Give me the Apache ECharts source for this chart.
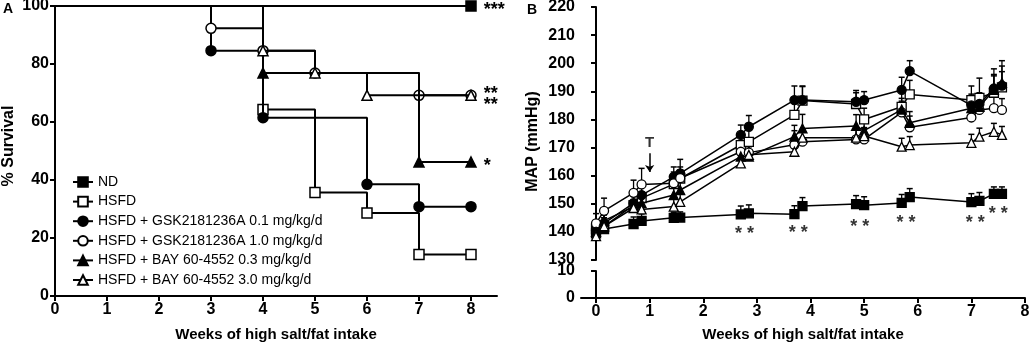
<!DOCTYPE html>
<html>
<head>
<meta charset="utf-8">
<script src="https://cdn.jsdelivr.net/npm/echarts@6/dist/echarts.min.js"></script>
<style>
html,body{margin:0;padding:0;background:#fff}
#main{width:1029px;height:348px}
</style>
</head>
<body>
<div id="main"></div>
<script>
// ---- panel A: Kaplan-Meier survival, [week, % survival]
var groupNames = ['ND', 'HSFD', 'HSFD + GSK2181236A 0.1 mg/kg/d', 'HSFD + GSK2181236A 1.0 mg/kg/d',
  'HSFD + BAY 60-4552 0.3 mg/kg/d', 'HSFD + BAY 60-4552 3.0 mg/kg/d'];
var kmND = [[0, 100], [8, 100]];
var kmHSFD = [[0, 100], [4, 64.3], [5, 35.7], [6, 28.6], [7, 14.3], [8, 14.3]];
var kmGSK01 = [[0, 100], [3, 84.6], [4, 61.5], [6, 38.5], [7, 30.8], [8, 30.8]];
var kmGSK10 = [[0, 100], [3, 92.3], [4, 84.6], [5, 76.9], [7, 69.2], [8, 69.2]];
var kmBAY03 = [[0, 100], [4, 76.9], [7, 46.2], [8, 46.2]];
var kmBAY30 = [[0, 100], [4, 84.6], [5, 76.9], [6, 69.2], [8, 69.2]];
var kmSig = ['***', '', '', '**', '*', '**'];
var weekTicksA = [0, 1, 2, 3, 4, 5, 6, 7, 8];

// ---- panel B: MAP (mmHg), mean and SEM
var weeksB = [0, 0.15, 0.7, 0.85, 1.45, 1.57, 2.7, 2.85, 3.7, 3.85, 4.85, 5.0, 5.7, 5.85, 7.0, 7.15, 7.42, 7.57];
var mapND    = [139.5, 141, 142.8, 143.9, 145, 145.1, 146.2, 146.6, 146.3, 149.2, 149.9, 149.5, 150.3, 152.4, 150.6, 151, 153.5, 153.5];
var mapHSFD  = [141, 142, 149.5, 152, 157, 159, 170.9, 172, 181.6, 186.7, 185.5, 180, 184.5, 188.9, 186.9, 187.7, 189.5, 191.4];
var mapGSK01 = [140.5, 143, 150.2, 153.1, 159.6, 160.8, 174.5, 177.4, 186.9, 186.9, 186.3, 186.9, 190.5, 197.2, 185, 185.5, 191, 192];
var mapGSK10 = [143, 147.5, 153.9, 156.9, 157.3, 159.1, 168.5, 168.2, 171, 172.1, 172.9, 172.9, 182.5, 177.2, 180.7, 183.4, 184, 183.4];
var mapBAY03 = [140, 144, 149, 150.2, 153.1, 154.9, 166.8, 166.8, 173.9, 176.8, 177.7, 176, 183.5, 178.8, 184, 184.5, 190.5, 193];
var mapBAY30 = [138.5, 142, 148.5, 148, 149, 150.7, 164.4, 167.4, 168.5, 173.5, 173.5, 174.1, 170.3, 170.9, 171.7, 173.9, 175.6, 174.5];
var semND    = [3, 3, 2.5, 2.5, 2, 2, 3, 3, 3, 3, 3, 3, 3, 3, 3, 3, 2.5, 2.5];
var semHSFD  = [3, 3, 4, 4, 3, 3, 4, 5, 5, 5, 4, 4, 5, 5, 5, 7, 8.5, 9.5];
var semGSK01 = [3, 3, 4, 4, 3.5, 5, 3.5, 4, 5, 5, 4, 3, 4.5, 3.7, 4, 4, 5, 5];
var semGSK10 = [3.5, 4.5, 4.5, 5.7, 4, 4, 4, 4, 5, 4, 4, 4, 4, 4, 4, 4, 4, 4];
var semBAY03 = [3, 3, 4, 4, 4, 4, 3.5, 3.5, 4, 5, 4, 4, 4, 4, 4, 4, 5, 6];
var semBAY30 = [3, 3, 3, 3, 3, 3, 3, 3, 3, 3, 3, 3, 3, 3, 3, 3, 3, 3];
var starWeeks = [2.77, 3.77, 4.92, 5.78, 7.07, 7.5];
var starMAP = [141, 141.4, 143.5, 145, 145, 148.1];
var weekTicksB = [0, 1, 2, 3, 4, 5, 6, 7, 8];

var symbols = ['rect', 'rect', 'circle', 'circle', 'triangle', 'triangle'];
var fills = ['#000', '#fff', '#000', '#fff', '#000', '#fff'];
var FONT = 'Liberation Sans, Arial, sans-serif';

var kmData = [kmND, kmHSFD, kmGSK01, kmGSK10, kmBAY03, kmBAY30];
var mapData = [mapND, mapHSFD, mapGSK01, mapGSK10, mapBAY03, mapBAY30];
var semData = [semND, semHSFD, semGSK01, semGSK10, semBAY03, semBAY30];
var sigOffset = [[0, 4], [0, 4], [0, 4], [0, -1], [0, 4], [0, 10]];

var mychart = echarts.init(document.getElementById('main'));

var series = [];
kmData.forEach(function (pts, i) {
  series.push({
    name: groupNames[i], type: 'line', step: 'end',
    xAxisIndex: 0, yAxisIndex: 0,
    symbol: symbols[i], symbolSize: 10, z: 3 + i,
    lineStyle: {color: '#000', width: 2},
    itemStyle: {color: fills[i], borderColor: '#000', borderWidth: 1.5},
    data: pts.map(function (p, j) {
      if (j === 0) return {value: p, symbol: 'none'};
      if (j === pts.length - 1 && kmSig[i]) {
        return {value: p, label: {show: true, position: 'right', distance: 7, formatter: kmSig[i],
          offset: sigOffset[i], color: '#000', fontSize: 18, fontWeight: 'bold', fontFamily: FONT}};
      }
      return {value: p};
    })
  });
});

// error bars (upward SEM) for panel B
var errData = [];
mapData.forEach(function (vals, i) {
  vals.forEach(function (v, j) { errData.push([weeksB[j], v, semData[i][j]]); });
});
series.push({
  type: 'custom', xAxisIndex: 1, yAxisIndex: 1, z: 1, silent: true,
  data: errData,
  renderItem: function (params, api) {
    var p0 = api.coord([api.value(0), api.value(1)]);
    var p1 = api.coord([api.value(0), api.value(1) + api.value(2)]);
    return {type: 'group', children: [
      {type: 'line', shape: {x1: p0[0], y1: p0[1], x2: p1[0], y2: p1[1]}, style: {stroke: '#000', lineWidth: 1.3}},
      {type: 'line', shape: {x1: p1[0] - 3, y1: p1[1], x2: p1[0] + 3, y2: p1[1]}, style: {stroke: '#000', lineWidth: 1.5}}
    ]};
  }
});

mapData.forEach(function (vals, i) {
  series.push({
    name: groupNames[i], type: 'line', xAxisIndex: 1, yAxisIndex: 1,
    symbol: symbols[i], symbolSize: 9, z: 3 + i,
    lineStyle: {color: '#000', width: 1.5},
    itemStyle: {color: fills[i], borderColor: '#000', borderWidth: 1.3},
    data: weeksB.map(function (w, j) { return [w, vals[j]]; })
  });
});

// significance stars under ND and the treatment arrow
var hidden = {color: 'rgba(0,0,0,0)'};
series.push({
  type: 'scatter', xAxisIndex: 1, yAxisIndex: 1, symbol: 'circle', symbolSize: 1, silent: true, z: 10,
  itemStyle: hidden,
  data: starWeeks.map(function (w, j) { return [w, starMAP[j]]; }),
  label: {show: true, position: 'inside', formatter: '* *', offset: [0, 5],
    color: '#000', fontSize: 18, fontWeight: 'bold', fontFamily: FONT}
});
series.push({
  type: 'scatter', xAxisIndex: 1, yAxisIndex: 1, symbol: 'circle', symbolSize: 1, silent: true, z: 10,
  itemStyle: hidden,
  data: [[1, 171.6]],
  label: {show: true, position: 'inside', formatter: 'T', color: '#000', fontSize: 15,
    fontWeight: 'bold', fontFamily: FONT},
  markLine: {silent: true, symbol: ['none', 'arrow'], symbolSize: 7,
    lineStyle: {color: '#000', width: 1.5, type: 'solid'}, label: {show: false},
    data: [[{coord: [1, 168]}, {coord: [1, 161.3]}]]}
});

var axisLine = {lineStyle: {color: '#000', width: 2}};
var axisTick = {length: 5, lineStyle: {color: '#000', width: 2}};
var tickLabel = {color: '#000', fontSize: 16, fontWeight: 'bold', fontFamily: FONT};
var nameStyle = {color: '#000', fontSize: 15, fontWeight: 'bold', fontFamily: FONT};
var yNameStyle = {color: '#000', fontSize: 16, fontWeight: 'bold', fontFamily: FONT};

var option = {
  animation: false,
  backgroundColor: '#fff',
  title: [
    {text: 'A', left: 3, top: 2, padding: 0, textStyle: {fontSize: 14, fontWeight: 'bold', fontFamily: FONT, color: '#000'}},
    {text: 'B', left: 527, top: 3, padding: 0, textStyle: {fontSize: 14, fontWeight: 'bold', fontFamily: FONT, color: '#000'}}
  ],
  legend: {
    orient: 'vertical', left: 67, top: 170, itemWidth: 20, itemHeight: 12, itemGap: 5.6,
    selectedMode: false, data: groupNames,
    textStyle: {color: '#000', fontSize: 14, fontFamily: FONT}
  },
  grid: [
    {left: 55, top: 6, width: 442, height: 290, outerBoundsMode: 'none'},
    {left: 581, top: 7, width: 444, height: 253, outerBoundsMode: 'none'},
    {left: 581, top: 271, width: 444, height: 27, outerBoundsMode: 'none'}
  ],
  xAxis: [
    {gridIndex: 0, type: 'value', min: 0, max: 8.5, splitLine: {show: false},
      axisLine: axisLine, axisTick: Object.assign({customValues: weekTicksA}, axisTick),
      axisLabel: Object.assign({customValues: weekTicksA, margin: 6}, tickLabel),
      name: 'Weeks of high salt/fat intake', nameLocation: 'middle', nameGap: 31, nameTextStyle: nameStyle},
    {gridIndex: 1, type: 'value', min: -0.28, max: 8, show: false},
    {gridIndex: 2, type: 'value', min: -0.28, max: 8, splitLine: {show: false},
      axisLine: axisLine, axisTick: Object.assign({customValues: weekTicksB}, axisTick),
      axisLabel: Object.assign({customValues: weekTicksB, margin: 6}, tickLabel),
      name: 'Weeks of high salt/fat intake', nameLocation: 'middle', nameGap: 29, nameTextStyle: nameStyle}
  ],
  yAxis: [
    {gridIndex: 0, type: 'value', min: 0, max: 100, interval: 20, splitLine: {show: false},
      axisLine: axisLine, axisTick: axisTick, axisLabel: Object.assign({margin: 6}, tickLabel),
      name: '% Survival', nameLocation: 'middle', nameGap: 38, nameRotate: 90,
      nameTextStyle: Object.assign({padding: [0, 0, 0, 10]}, yNameStyle)},
    {gridIndex: 1, type: 'value', min: 130, max: 220, interval: 10, splitLine: {show: false},
      axisLine: axisLine, axisTick: axisTick, axisLabel: Object.assign({margin: 6}, tickLabel),
      name: 'MAP (mmHg)', nameLocation: 'middle', nameGap: 40, nameRotate: 90,
      nameTextStyle: Object.assign({padding: [0, 16, 0, 0]}, yNameStyle)},
    {gridIndex: 2, type: 'value', min: 0, max: 10, interval: 10, splitLine: {show: false},
      axisLine: axisLine, axisTick: axisTick, axisLabel: Object.assign({margin: 6}, tickLabel)}
  ],
  series: series
};
mychart.setOption(option);
</script>
</body>
</html>
